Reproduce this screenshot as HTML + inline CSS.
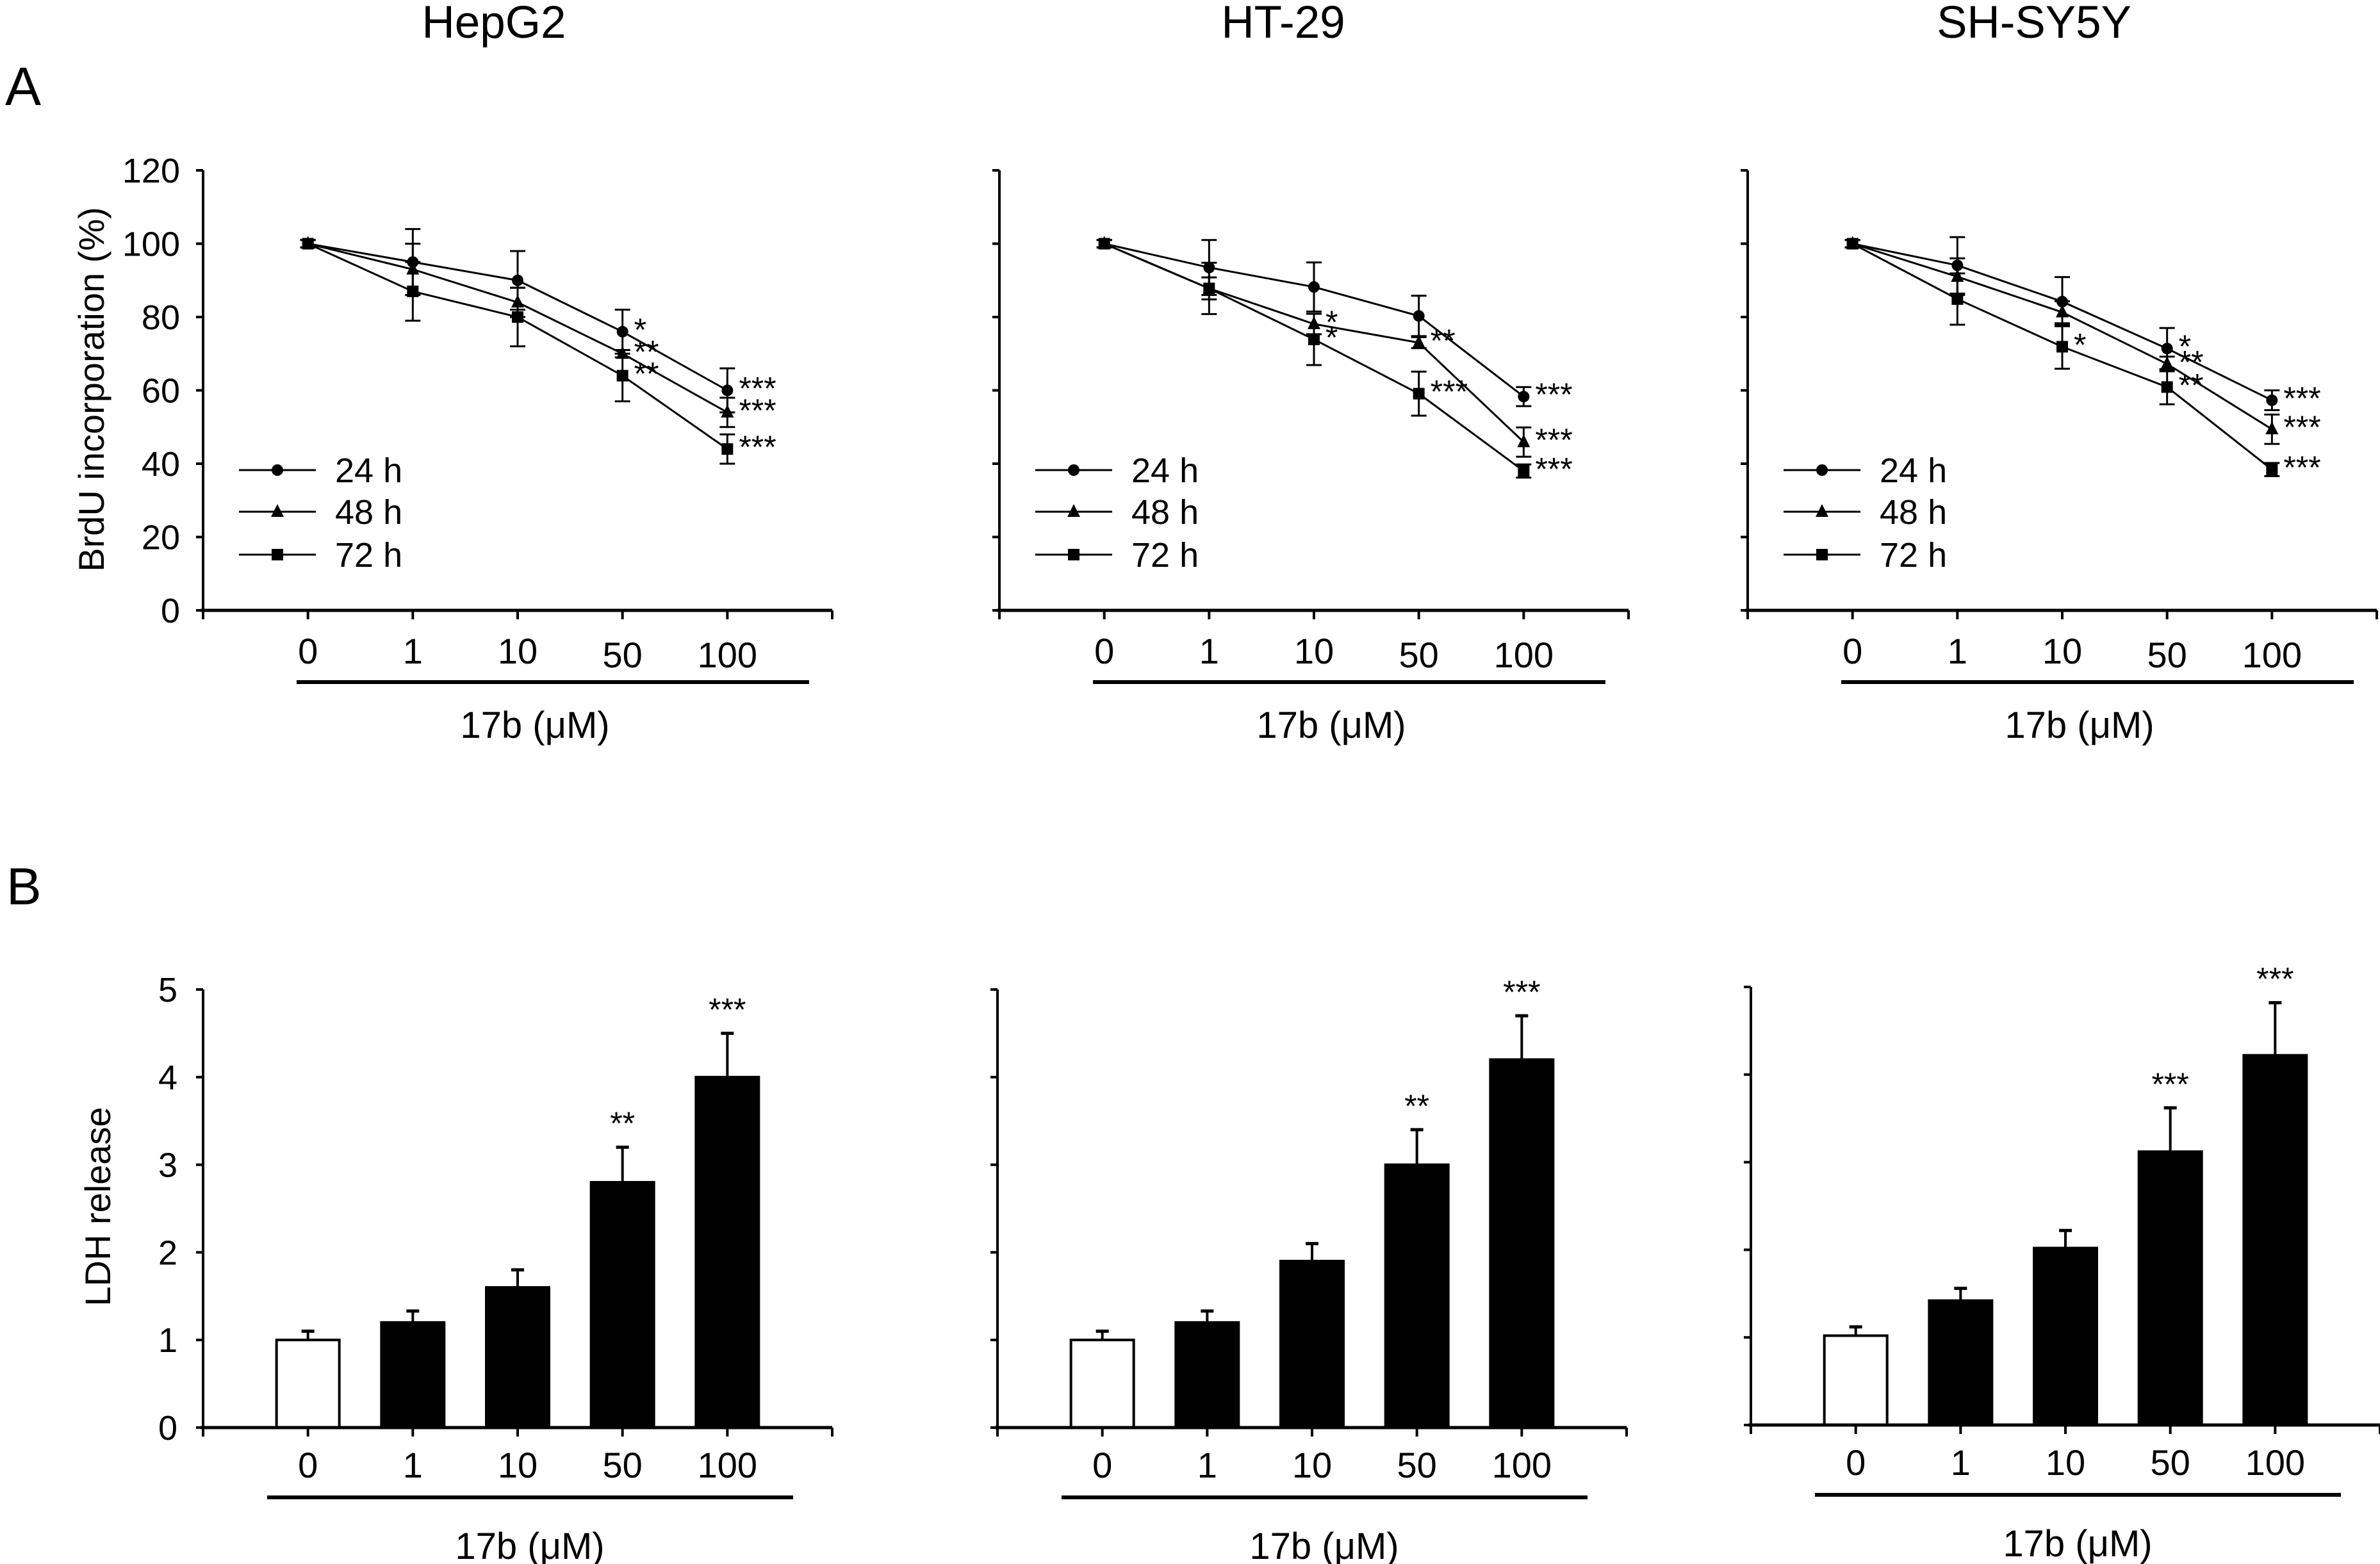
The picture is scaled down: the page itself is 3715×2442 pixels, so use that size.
<!DOCTYPE html>
<html><head><meta charset="utf-8"><style>
html,body{margin:0;padding:0;background:#fff;}
svg{display:block;}
text{font-family:"Liberation Sans",Arial,sans-serif;fill:#000;}
</style></head><body>
<svg id="fig" width="3715" height="2442" viewBox="0 0 3715 2442" xmlns="http://www.w3.org/2000/svg"></svg>
<script>
// ---- data ----
const cellLines = ["HepG2", "HT-29", "SH-SY5Y"];
const doses = ["0", "1", "10", "50", "100"];
const timeLabels = ["24 h", "48 h", "72 h"];
const brduTicks = [0, 20, 40, 60, 80, 100, 120];
const ldhTicks = [0, 1, 2, 3, 4, 5];
const brduHepG2_24 = [100, 95, 90, 76, 60];
const brduHepG2_48 = [100, 93, 84, 70, 54];
const brduHepG2_72 = [100, 87, 80, 64, 44];
const brduHepG2Err_24 = [1, 9, 8, 6, 6];
const brduHepG2Err_48 = [1, 7, 4, 1, 4];
const brduHepG2Err_72 = [1, 8, 8, 7, 4];
const brduHT29_24 = [100, 93.5, 88.2, 80.3, 58.3];
const brduHT29_48 = [100, 87.8, 78.1, 73, 45.9];
const brduHT29_72 = [100, 87.8, 73.9, 59.1, 38];
const brduHT29Err_24 = [1, 7.5, 6.7, 5.5, 2.6];
const brduHT29Err_48 = [1, 3, 2.8, 1.5, 4];
const brduHT29Err_72 = [1, 7, 7, 6, 1.8];
const brduSH_24 = [100, 94.1, 84.2, 71.4, 57.3];
const brduSH_48 = [100, 91, 81.3, 67.2, 49.4];
const brduSH_72 = [100, 84.9, 71.9, 60.9, 38.4];
const brduSHErr_24 = [1, 7.7, 6.7, 5.6, 2.7];
const brduSHErr_48 = [1, 5, 3, 2, 4];
const brduSHErr_72 = [1, 7, 6, 4.7, 1.8];
const sigHepG2_24 = ["", "", "", "*", "***"];
const sigHepG2_48 = ["", "", "", "**", "***"];
const sigHepG2_72 = ["", "", "", "**", "***"];
const sigHT29_24 = ["", "", "", "", "***"];
const sigHT29_48 = ["", "", "*", "**", "***"];
const sigHT29_72 = ["", "", "*", "***", "***"];
const sigSH_24 = ["", "", "", "*", "***"];
const sigSH_48 = ["", "", "", "**", "***"];
const sigSH_72 = ["", "", "*", "**", "***"];
const ldhHepG2 = [1.0, 1.2, 1.6, 2.8, 4.0];
const ldhHepG2Err = [0.1, 0.13, 0.2, 0.4, 0.5];
const ldhHT29 = [1.0, 1.2, 1.9, 3.0, 4.2];
const ldhHT29Err = [0.1, 0.13, 0.2, 0.4, 0.5];
const ldhSH = [1.02, 1.42, 2.02, 3.12, 4.22];
const ldhSHErr = [0.1, 0.14, 0.2, 0.5, 0.6];
const ldhSigHepG2 = ["", "", "", "**", "***"];
const ldhSigHT29 = ["", "", "", "**", "***"];
const ldhSigSH = ["", "", "", "***", "***"];

const brduSeries = [
  [[brduHepG2_24, brduHepG2Err_24, sigHepG2_24],[brduHepG2_48, brduHepG2Err_48, sigHepG2_48],[brduHepG2_72, brduHepG2Err_72, sigHepG2_72]],
  [[brduHT29_24, brduHT29Err_24, sigHT29_24],[brduHT29_48, brduHT29Err_48, sigHT29_48],[brduHT29_72, brduHT29Err_72, sigHT29_72]],
  [[brduSH_24, brduSHErr_24, sigSH_24],[brduSH_48, brduSHErr_48, sigSH_48],[brduSH_72, brduSHErr_72, sigSH_72]]
];
const ldhSeries = [[ldhHepG2, ldhHepG2Err, ldhSigHepG2],[ldhHT29, ldhHT29Err, ldhSigHT29],[ldhSH, ldhSHErr, ldhSigSH]];

const NS = "http://www.w3.org/2000/svg";
const svg = document.getElementById("fig");
function mk(tag, attrs, parent){ const e=document.createElementNS(NS,tag); for(const k in attrs) e.setAttribute(k,attrs[k]); (parent||svg).appendChild(e); return e; }
function txt(s, attrs, parent){ const e=mk("text",attrs,parent); e.textContent=s; return e; }

const axX = [317, 1560, 2728];
const axW = 982;
const step = axW/6;
const titleX = [771, 2003, 3175];
function xPos(p,i){ return axX[p] + step*(i+1); }
const aTop = 266, aBot = 953;
function yA(v){ return aBot - (v/120)*(aBot-aTop); }
const bTop = [1545,1545,1541], bBot = [2229,2229,2225];
function yB(p,v){ return bBot[p] - (v/5)*(bBot[p]-bTop[p]); }

let e;
e = txt("A",{x:8,y:164,"font-size":84});
 
e = txt("B",{x:10,y:1412,"font-size":82});
 

cellLines.forEach((name,p)=>{
  e = txt(name,{x:titleX[p],y:59,"font-size":71,"text-anchor":"middle"});
   

  const gA = mk("g",{});
   
  mk("line",{x1:axX[p],y1:aTop,x2:axX[p],y2:aBot+2,stroke:"#000","stroke-width":4},gA);
  mk("line",{x1:axX[p]-4,y1:aBot,x2:axX[p]+axW,y2:aBot,stroke:"#000","stroke-width":5},gA);
  brduTicks.forEach(t=>{
    mk("line",{x1:axX[p]-11,y1:yA(t),x2:axX[p],y2:yA(t),stroke:"#000","stroke-width":4},gA);
    if(p===0){ e=txt(String(t),{x:axX[p]-36,y:yA(t)+19,"font-size":54,"text-anchor":"end"},gA);
        }
  });
  for(let k=0;k<=6;k++) mk("line",{x1:axX[p]+step*k,y1:aBot,x2:axX[p]+step*k,y2:aBot+14,stroke:"#000","stroke-width":4},gA);
  doses.forEach((d,i)=>{
    e=txt(d,{x:xPos(p,i),y:1036+(i>=3?6:0),"font-size":56,"text-anchor":"middle"},gA);
     
  });
  mk("line",{x1:axX[p]+146,y1:1065,x2:axX[p]+946,y2:1065,stroke:"#000","stroke-width":6},gA);
  e=txt("17b (\u03bcM)",{x:axX[p]+518,y:1152,"font-size":58,"text-anchor":"middle"},gA);
   
  if(p===0){ e=txt("BrdU incorporation (%)",{x:0,y:0,"font-size":56,"text-anchor":"middle",transform:"translate(162,608) rotate(-90)"},gA);
      }

  brduSeries[p].forEach((ser,s)=>{
    const [vals,errs,sig]=ser;
    const g=mk("g",{},gA);
     
    mk("polyline",{points:vals.map((v,i)=>xPos(p,i)+","+yA(v)).join(" "),fill:"none",stroke:"#000","stroke-width":3},g);
    vals.forEach((v,i)=>{
      const x=xPos(p,i), y=yA(v), eu=yA(v+errs[i]), ed=yA(v-errs[i]);
      mk("line",{x1:x,y1:eu,x2:x,y2:ed,stroke:"#000","stroke-width":3},g);
      mk("line",{x1:x-12,y1:eu,x2:x+12,y2:eu,stroke:"#000","stroke-width":3},g);
      mk("line",{x1:x-12,y1:ed,x2:x+12,y2:ed,stroke:"#000","stroke-width":3},g);
      drawMarker(s,x,y,g);
      if(sig[i]){ e=txt(sig[i],{x:x+18,y:y+14,"font-size":50},g);
          }
    });
  });
  timeLabels.forEach((lab,s)=>{
    const lx=axX[p]+56, ly=[734,799,866][s];
    const g=mk("g",{},gA);
     
    mk("line",{x1:lx,y1:ly,x2:lx+120,y2:ly,stroke:"#000","stroke-width":3},g);
    drawMarker(s,lx+60,ly,g);
    txt(lab,{x:lx+150,y:ly+19,"font-size":54},g);
  });

  const gB=mk("g",{});
   
  const bx=[317,1557,2733][p];
  function xb(i){ return bx+step*(i+1); }
  const [vals,errs,sig]=ldhSeries[p];
  vals.forEach((v,i)=>{
    const x=xb(i), top=yB(p,v), et=yB(p,v+errs[i]);
    mk("line",{x1:x,y1:et,x2:x,y2:top,stroke:"#000","stroke-width":4},gB);
    mk("line",{x1:x-10,y1:et,x2:x+10,y2:et,stroke:"#000","stroke-width":5},gB);
    const r=mk("rect",{x:x-49,y:top,width:98,height:bBot[p]-top,fill:i===0?"#fff":"#000",stroke:"#000","stroke-width":4},gB);
     
    if(sig[i]){ e=txt(sig[i],{x:x,y:et-20,"font-size":50,"text-anchor":"middle"},gB);
        }
  });
  mk("line",{x1:bx,y1:bTop[p],x2:bx,y2:bBot[p]+2,stroke:"#000","stroke-width":4},gB);
  mk("line",{x1:bx-4,y1:bBot[p],x2:bx+axW,y2:bBot[p],stroke:"#000","stroke-width":5},gB);
  ldhTicks.forEach(t=>{
    mk("line",{x1:bx-11,y1:yB(p,t),x2:bx,y2:yB(p,t),stroke:"#000","stroke-width":4},gB);
    if(p===0){ e=txt(String(t),{x:bx-40,y:yB(p,t)+19,"font-size":54,"text-anchor":"end"},gB);
        }
  });
  for(let k=0;k<=6;k++) mk("line",{x1:bx+step*k,y1:bBot[p],x2:bx+step*k,y2:bBot[p]+14,stroke:"#000","stroke-width":4},gB);
  doses.forEach((d,i)=>{
    e=txt(d,{x:xb(i),y:bBot[p]+78,"font-size":56,"text-anchor":"middle"},gB);
     
  });
  mk("line",{x1:bx+100,y1:bBot[p]+109,x2:bx+921,y2:bBot[p]+109,stroke:"#000","stroke-width":6},gB);
  e=txt("17b (\u03bcM)",{x:bx+510,y:bBot[p]+205,"font-size":58,"text-anchor":"middle"},gB);
   
  if(p===0){ e=txt("LDH release",{x:0,y:0,"font-size":56,"text-anchor":"middle",transform:"translate(172,1884) rotate(-90)"},gB);
      }
});

function drawMarker(s,x,y,g){
  if(s===0) mk("circle",{cx:x,cy:y,r:9,fill:"#000"},g);
  else if(s===1) mk("polygon",{points:(x)+","+(y-12)+" "+(x-10)+","+(y+8)+" "+(x+10)+","+(y+8),fill:"#000"},g);
  else mk("rect",{x:x-9,y:y-9,width:18,height:18,fill:"#000"},g);
}
</script>
</body></html>
